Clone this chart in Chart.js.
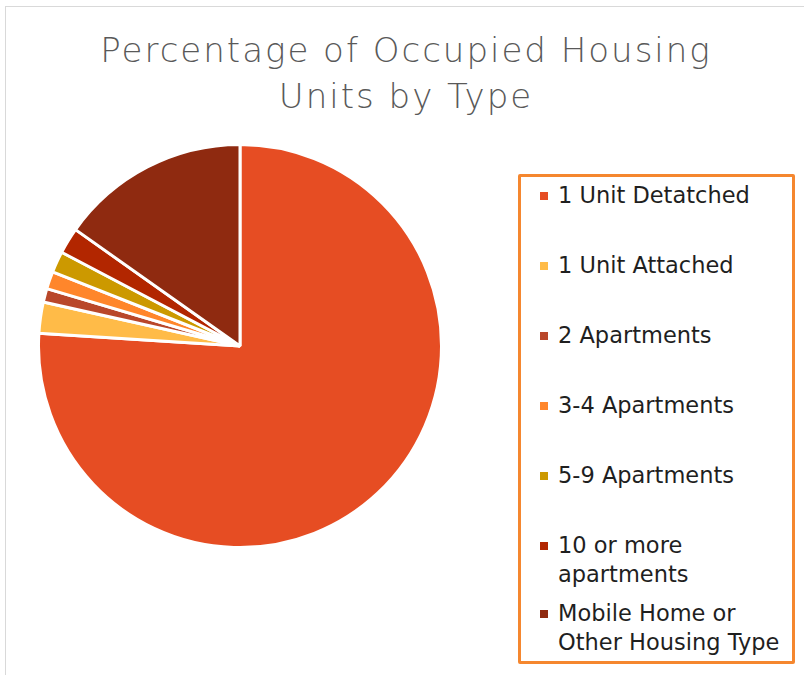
<!DOCTYPE html>
<html>
<head>
<meta charset="utf-8">
<script src="https://cdn.jsdelivr.net/npm/chart.js@4"></script>
<style>
    body { margin: 0; background: #fff; }
    #wrap { position: relative; width: 804px; height: 675px; overflow: hidden; }
    #frame { position: absolute; left: 5px; top: 6px; width: 900px; height: 800px; border: 1.5px solid #d9d9d9; }
    #title { position: absolute; left: 0; top: 27px; width: 812px; text-align: center;
             font-family: "DejaVu Sans"; font-weight: 200; font-size: 34px; letter-spacing: 2px;
             line-height: 46px; color: #595959; }
    #pie-box { position: absolute; left: 37px; top: 143px; width: 406px; height: 406px; }
    #legend { position: absolute; left: 518px; top: 174px; width: 271px; height: 484px;
              border: 3px solid #f5872f; border-radius: 2px; font-family: "DejaVu Sans"; font-size: 22.5px; color: #1f1f1f; }
    .item { position: absolute; left: 37px; line-height: 29px; white-space: nowrap; }
    .swatch { position: absolute; left: -18px; top: 11px; width: 8px; height: 8px; }
</style>
</head>
<body>
<div id="wrap">
    <div id="frame"></div>
    <div id="title">Percentage of Occupied Housing<br>Units by Type</div>
    <div id="pie-box"><canvas id="pie"></canvas></div>
    <div id="legend"></div>
</div>
<script>
const labels = [
    "1 Unit Detatched",
    "1 Unit Attached",
    "2 Apartments",
    "3-4 Apartments",
    "5-9 Apartments",
    "10 or more apartments",
    "Mobile Home or Other Housing Type"
];
const legendLines = [
    ["1 Unit Detatched"],
    ["1 Unit Attached"],
    ["2 Apartments"],
    ["3-4 Apartments"],
    ["5-9 Apartments"],
    ["10 or more", "apartments"],
    ["Mobile Home or", "Other Housing Type"]
];
const percents = [76.0, 2.5, 1.1, 1.4, 1.7, 2.1, 15.2];
const colors = ["#e64d23", "#ffbb48", "#b9472a", "#ff862b", "#cc9900", "#b22600", "#8f2a10"];

// legend rows, spaced like the original
const legendTops = [4, 74, 144, 214, 284, 354, 422];
const legend = document.getElementById("legend");
labels.forEach((lab, i) => {
    const row = document.createElement("div");
    row.className = "item";
    row.style.top = legendTops[i] + "px";
    row.innerHTML = '<span class="swatch" style="background:' + colors[i] + '"></span>' + legendLines[i].join("<br>");
    legend.appendChild(row);
});

new Chart(document.getElementById("pie"), {
    type: "pie",
    data: {
        labels: labels,
        datasets: [{
            data: percents,
            backgroundColor: colors,
            borderColor: "#ffffff",
            borderWidth: 3
        }]
    },
    options: {
        responsive: true,
        maintainAspectRatio: false,
        animation: false,
        layout: { padding: 0 },
        plugins: {
            legend: { display: false },
            tooltip: { enabled: false }
        }
    }
});
</script>
</body>
</html>
